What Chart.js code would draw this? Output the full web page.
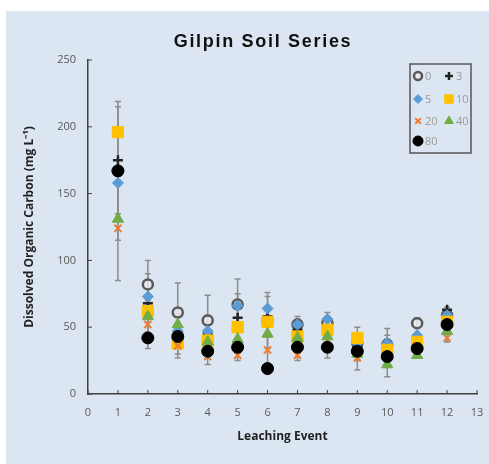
<!DOCTYPE html>
<html>
<head>
<meta charset="utf-8">
<script src="https://cdn.jsdelivr.net/npm/chart.js@4.4.1/dist/chart.umd.min.js"></script>
<style>
  html, body { margin: 0; padding: 0; background: #fff; overflow: hidden; }
  #contenedor { width: 489px; height: 464px; }
  canvas { display: block; }
</style>
</head>
<body>
<div id="contenedor"><canvas id="grafico"></canvas></div>
<script>
// Datos
const eventos = [1, 2, 3, 4, 5, 6, 7, 8, 9, 10, 11, 12];
const nombres = ["0", "3", "5", "10", "20", "40", "80"];

const serie0 = [167, 82, 61, 55, 67, 55, 52, 53, 38, 37, 53, 59];
const serie3 = [175, 68, 45, 45, 57, 58, 48, 50, 35, 32, 40, 63];
const serie5 = [158, 73, 47, 47, 66, 64, 52, 56, 38, 38, 44, 59];
const serie10 = [196, 62, 38, 40, 50, 54, 43, 48, 42, 33, 39, 54];
const serie20 = [124, 52, 36, 28, 29, 33, 29, 40, 27, 27, 36, 42];
const serie40 = [131, 58, 52, 39, 41, 45, 42, 43, 30, 22, 29, 47];
const serie80 = [167, 42, 43, 32, 35, 19, 35, 35, 32, 28, 34, 52];

// Desvios (barras de error)
const error0 = [52, 18, 22, 19, 19, 21, 6, 8, 12, 12, 4, 4];
const error3 = [40, 22, 15, 14, 18, 15, 8, 8, 10, 12, 5, 2];
const error20 = [39, 18, 9, 6, 4, 10, 4, 13, 9, 14, 5, 3];

const errores = [
  [serie0, error0],
  [serie3, error3],
  [serie20, error20],
];

const puntos = (valores) => eventos.map((e, i) => ({ x: e, y: valores[i] }));

// Fondo blanco + panel celeste
const fondo = {
  id: "fondo",
  beforeDraw(chart) {
    const ctx = chart.ctx;
    ctx.save();
    ctx.fillStyle = "#ffffff";
    ctx.fillRect(0, 0, chart.width, chart.height);
    ctx.fillStyle = "#dce6f2";
    ctx.fillRect(6, 11, chart.width - 6, chart.height - 11);
    ctx.restore();
  },
};

// Barras de error grises debajo de los puntos
const barrasError = {
  id: "barrasError",
  beforeDatasetsDraw(chart) {
    const { ctx, scales: { x, y } } = chart;
    ctx.save();
    ctx.strokeStyle = "#8c8c8c";
    ctx.lineWidth = 1.5;
    errores.forEach(([valores, desvios]) => {
      eventos.forEach((ev, i) => {
        const px = x.getPixelForValue(ev);
        const arriba = y.getPixelForValue(valores[i] + desvios[i]);
        const abajo = y.getPixelForValue(valores[i] - desvios[i]);
        ctx.beginPath();
        ctx.moveTo(px, arriba);
        ctx.lineTo(px, abajo);
        ctx.moveTo(px - 3, arriba);
        ctx.lineTo(px + 3, arriba);
        ctx.moveTo(px - 3, abajo);
        ctx.lineTo(px + 3, abajo);
        ctx.stroke();
      });
    });
    ctx.restore();
  },
};

// Titulo, marcas hacia adentro y leyenda en recuadro
const extras = {
  id: "extras",
  afterDraw(chart) {
    const { ctx, scales: { x, y } } = chart;
    ctx.save();

    // titulo
    ctx.fillStyle = "#111";
    ctx.font = "bold 18px 'Liberation Sans'";
    ctx.letterSpacing = "1.7px";
    ctx.textAlign = "center";
    ctx.textBaseline = "middle";
    ctx.fillText("Gilpin Soil Series", 263, 42);
    ctx.letterSpacing = "0px";

    // marcas de los ejes
    ctx.strokeStyle = "#404040";
    ctx.lineWidth = 1;
    ctx.beginPath();
    x.ticks.forEach((t) => {
      const px = x.getPixelForValue(t.value);
      ctx.moveTo(px, y.bottom);
      ctx.lineTo(px, y.bottom - 4);
    });
    y.ticks.forEach((t) => {
      const py = y.getPixelForValue(t.value);
      ctx.moveTo(x.left, py);
      ctx.lineTo(x.left + 4, py);
    });
    ctx.stroke();

    // leyenda
    ctx.strokeStyle = "#555";
    ctx.lineWidth = 1.5;
    ctx.strokeRect(410, 64, 61, 89);
    ctx.font = "11px 'Open Sans'";
    ctx.textAlign = "left";
    chart.data.datasets.forEach((ds, i) => {
      const col = i % 2;
      const fila = Math.floor(i / 2);
      const lx = col === 0 ? 418 : 449;
      const ly = [76, 99, 121, 141][fila];
      ctx.fillStyle = ds.backgroundColor;
      ctx.strokeStyle = ds.borderColor;
      ctx.lineWidth = ds.borderWidth;
      Chart.helpers.drawPoint(
        ctx,
        { pointStyle: ds.pointStyle, rotation: 0, radius: ds.legendRadius, borderWidth: ds.borderWidth },
        lx,
        ly,
      );
      ctx.fillStyle = "#9a9a9a";
      ctx.fillText(ds.label, lx + 7, ly + 1);
    });
    ctx.restore();
  },
};

new Chart(document.getElementById("grafico"), {
  type: "scatter",
  data: {
    datasets: [
      {
        label: nombres[0],
        data: puntos(serie0),
        pointStyle: "circle",
        pointRadius: 5,
        legendRadius: 4,
        backgroundColor: "rgba(235,235,235,0.8)",
        borderColor: "#595959",
        borderWidth: 2.5,
        order: 6,
      },
      {
        label: nombres[1],
        data: puntos(serie3),
        pointStyle: "cross",
        pointRadius: 5,
        legendRadius: 4,
        backgroundColor: "#222",
        borderColor: "#222",
        borderWidth: 2.5,
        order: 5,
      },
      {
        label: nombres[2],
        data: puntos(serie5),
        pointStyle: "rectRot",
        pointRadius: 5.5,
        legendRadius: 4.5,
        backgroundColor: "#5b9bd5",
        borderColor: "#5b9bd5",
        borderWidth: 1,
        order: 4,
      },
      {
        label: nombres[3],
        data: puntos(serie10),
        pointStyle: "rect",
        pointRadius: 8,
        legendRadius: 6,
        backgroundColor: "#ffc000",
        borderColor: "#ffc000",
        borderWidth: 1,
        order: 3,
      },
      {
        label: nombres[4],
        data: puntos(serie20),
        pointStyle: "crossRot",
        pointRadius: 5,
        legendRadius: 4,
        backgroundColor: "#ed7d31",
        borderColor: "#ed7d31",
        borderWidth: 2,
        order: 2,
      },
      {
        label: nombres[5],
        data: puntos(serie40),
        pointStyle: "triangle",
        pointRadius: 6.5,
        legendRadius: 5,
        backgroundColor: "#70ad47",
        borderColor: "#70ad47",
        borderWidth: 1,
        order: 1,
      },
      {
        label: nombres[6],
        data: puntos(serie80),
        pointStyle: "circle",
        pointRadius: 6,
        legendRadius: 5,
        backgroundColor: "#000",
        borderColor: "#000",
        borderWidth: 1,
        order: 0,
      },
    ],
  },
  options: {
    responsive: true,
    maintainAspectRatio: false,
    animation: false,
    layout: { padding: { left: 6, right: 12, top: 60, bottom: 0 } },
    plugins: {
      legend: { display: false },
      title: { display: false },
      tooltip: { enabled: false },
    },
    scales: {
      x: {
        type: "linear",
        min: 0,
        max: 13,
        ticks: {
          stepSize: 1,
          padding: 12,
          color: "#595959",
          font: { family: "Open Sans", size: 11 },
        },
        grid: { drawOnChartArea: false, drawTicks: false },
        border: { display: true, color: "#404040", width: 1.5 },
        title: {
          display: true,
          text: "Leaching Event",
          color: "#222",
          font: { family: "Open Sans", size: 12, weight: "bold" },
          padding: { top: 0, bottom: 20 },
        },
        afterFit: (scale) => {
          scale.height = 70;
          scale.paddingLeft = 0;
          scale.paddingRight = 0;
        },
      },
      y: {
        min: 0,
        max: 250,
        ticks: {
          stepSize: 50,
          padding: 12,
          color: "#595959",
          font: { family: "Open Sans", size: 11 },
        },
        grid: { drawOnChartArea: false, drawTicks: false },
        border: { display: true, color: "#404040", width: 1.5 },
        title: {
          display: true,
          text: "Dissolved Organic Carbon (mg L⁻¹)",
          color: "#222",
          font: { family: "Open Sans", size: 12, weight: "bold" },
          padding: { top: 16, bottom: 0 },
        },
        afterFit: (scale) => {
          scale.width = 82;
        },
      },
    },
  },
  plugins: [fondo, barrasError, extras],
});
</script>
</body>
</html>
